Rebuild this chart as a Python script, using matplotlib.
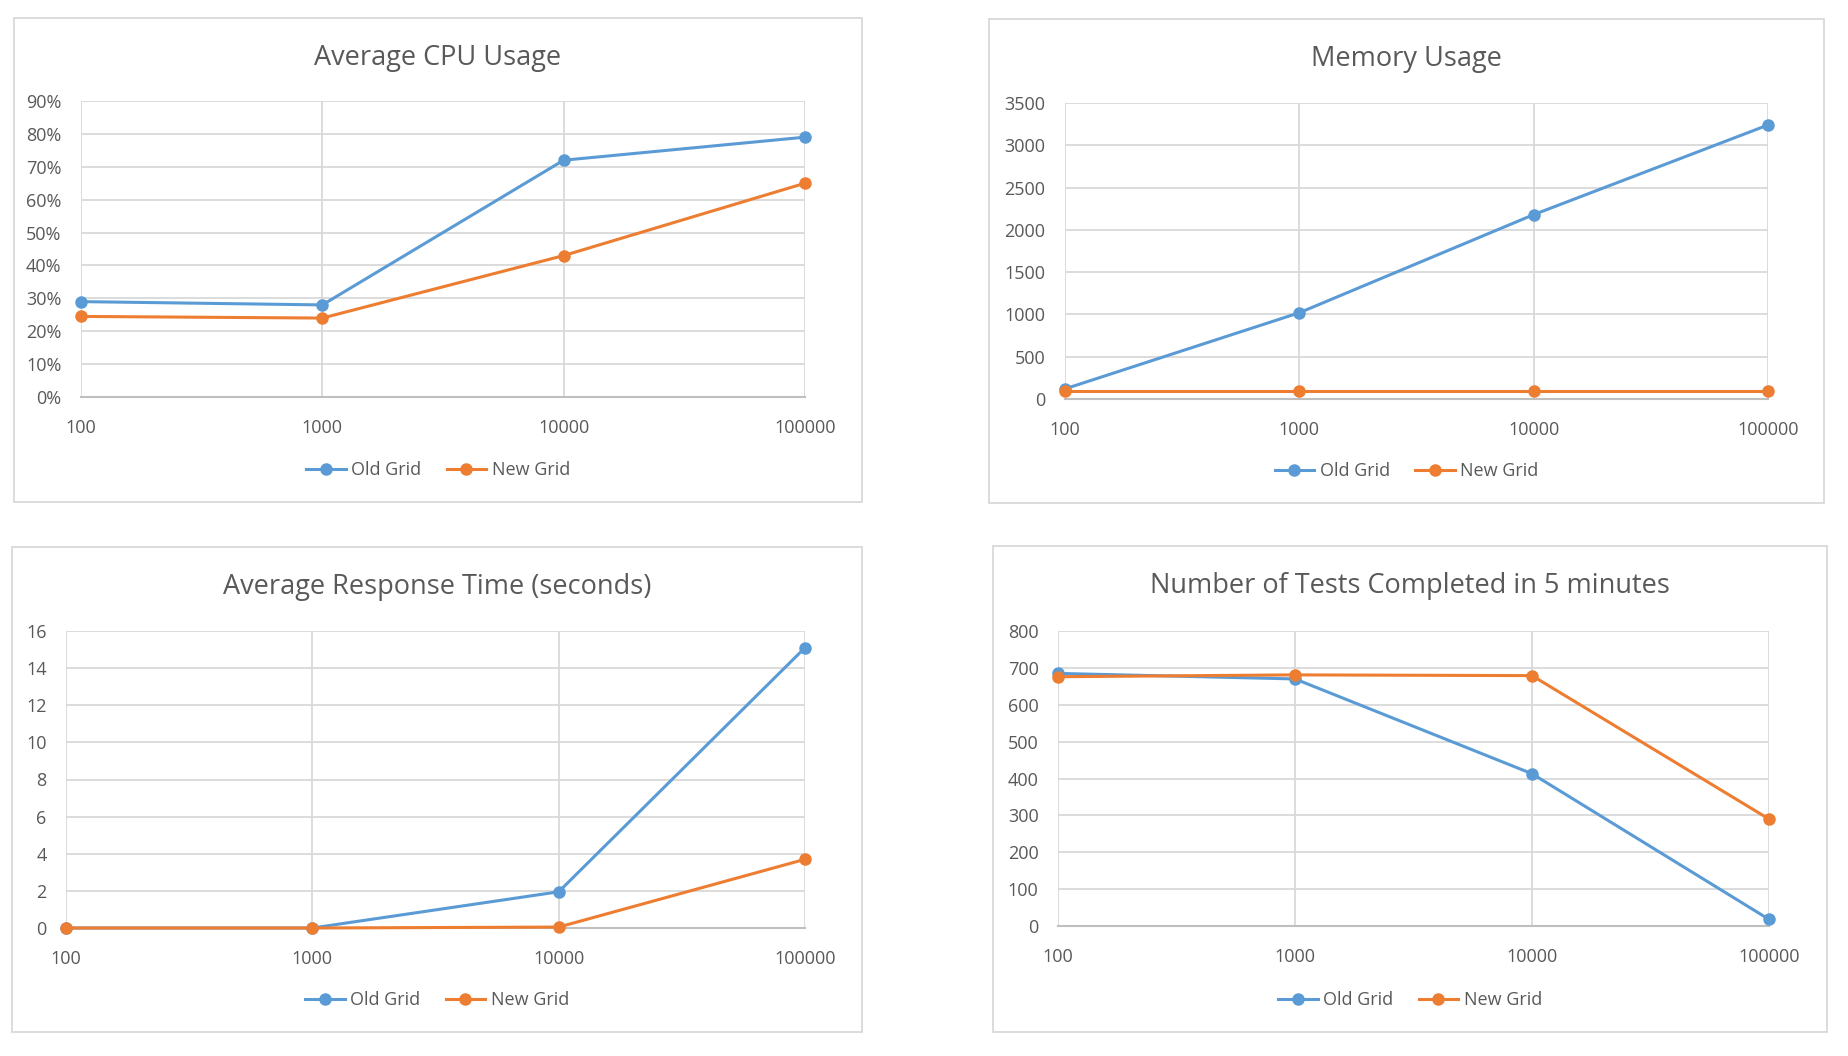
import matplotlib
matplotlib.use("Agg")
import matplotlib.pyplot as plt
from matplotlib.patches import Rectangle
from matplotlib.ticker import FuncFormatter

plt.rcParams["font.family"] = ["Open Sans", "DejaVu Sans"]

# data
grid_sizes = [100, 1000, 10000, 100000]
size_labels = ["100", "1000", "10000", "100000"]

cpu_old = [29, 28, 72, 79]
cpu_new = [24.5, 24, 43, 65]

mem_old = [120, 1020, 2180, 3240]
mem_new = [95, 95, 95, 95]

resp_old = [0, 0, 1.95, 15.1]
resp_new = [0, 0, 0.05, 3.7]

tests_old = [685, 670, 413, 18]
tests_new = [676, 681, 679, 290]

OLD_COLOR = "#5B9BD5"
NEW_COLOR = "#ED7D31"
TEXT = "#595959"
GRID = "#d9d9d9"

W, H = 1849, 1056


def fx(x):
    return x / W


def fy(y):
    return 1 - y / H


fig = plt.figure(figsize=(W / 100, H / 100), dpi=100)

panels = [
    # title, old, new, ymax, ystep, fmt, axes box (px), border box (px)
    ("Average CPU Usage", cpu_old, cpu_new, 90, 10, lambda v, p: f"{v:.0f}%",
     (81, 101, 805, 397), (14, 18, 862, 502)),
    ("Memory Usage", mem_old, mem_new, 3500, 500, lambda v, p: f"{v:.0f}",
     (1065, 103, 1768, 399), (989, 19, 1824, 503)),
    ("Average Response Time (seconds)", resp_old, resp_new, 16, 2, lambda v, p: f"{v:.0f}",
     (66, 631, 805, 928), (12, 547, 862, 1032)),
    ("Number of Tests Completed in 5 minutes", tests_old, tests_new, 800, 100,
     lambda v, p: f"{v:.0f}", (1058, 631, 1769, 926), (993, 546, 1827, 1032)),
]

for title, old, new, ymax, ystep, fmt, (x0, y0, x1, y1), (bx0, by0, bx1, by1) in panels:
    fig.patches.append(Rectangle((fx(bx0), fy(by1)), fx(bx1 - bx0), (by1 - by0) / H,
                                 transform=fig.transFigure, fill=False,
                                 edgecolor=GRID, linewidth=1.3))
    ax = fig.add_axes([fx(x0), fy(y1), fx(x1 - x0), (y1 - y0) / H])
    ax.set_xscale("log")
    ax.set_xlim(grid_sizes[0], grid_sizes[-1])
    ax.set_ylim(0, ymax)
    ax.set_xticks(grid_sizes)
    ax.set_xticklabels(size_labels)
    ax.xaxis.set_minor_locator(plt.NullLocator())
    ax.set_yticks(range(0, ymax + 1, ystep))
    ax.yaxis.set_major_formatter(FuncFormatter(fmt))
    ax.grid(True, color=GRID, linewidth=1.3)
    ax.set_axisbelow(True)
    for side in ["top", "right", "left"]:
        ax.spines[side].set_visible(False)
    ax.spines["bottom"].set_color("#bfbfbf")
    ax.spines["bottom"].set_linewidth(1.5)
    ax.tick_params(length=0, labelsize=13, colors=TEXT)
    ax.tick_params(axis="x", pad=16)
    ax.tick_params(axis="y", pad=14)

    ax.plot(grid_sizes, old, color=OLD_COLOR, linewidth=2.2, marker="o",
            markersize=8, label="Old Grid", clip_on=False, zorder=3)
    ax.plot(grid_sizes, new, color=NEW_COLOR, linewidth=2.2, marker="o",
            markersize=8, label="New Grid", clip_on=False, zorder=3)

    cx = fx((bx0 + bx1) / 2)
    fig.text(cx, fy(by0 + 40), title, ha="center", va="center",
             fontsize=19.5, color=TEXT)
    fig.legend(handles=ax.get_lines(), loc="center", ncol=2,
               bbox_to_anchor=(cx, fy(by1 - 32)), frameon=False,
               fontsize=13, labelcolor=TEXT, handlelength=2.2,
               handletextpad=0.3, columnspacing=1.4)

fig.savefig("out.png", dpi=100, facecolor="white")
